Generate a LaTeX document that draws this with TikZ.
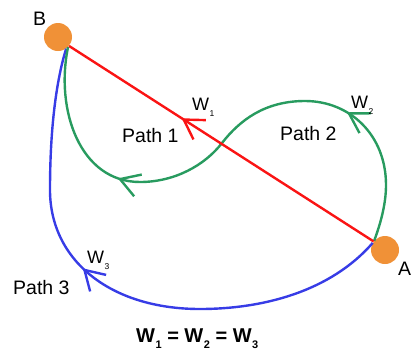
\documentclass[tikz,border=0pt]{standalone}
\usepackage{fontspec}
\setmainfont{Liberation Sans}
\usetikzlibrary{arrows.meta,decorations.markings}
\definecolor{dotorange}{RGB}{240,145,55}
\definecolor{pathred}{RGB}{250,20,20}
\definecolor{pathgreen}{RGB}{40,155,95}
\definecolor{pathblue}{RGB}{55,60,230}
\tikzset{
  point/.style={circle,fill=dotorange,minimum size=28pt,inner sep=0pt},
  lab/.style={font=\fontsize{19.5}{20}\selectfont,inner sep=0pt,anchor=base west},
  wlab/.style={font=\fontsize{18}{18}\selectfont,inner sep=0pt,anchor=base west},
  curve/.style={line width=2.4pt},
  barb/.style={postaction={decorate,decoration={markings,
      mark=at position #1 with {\arrow{Straight Barb[length=19pt,width=23pt]}}}}}
}
\newcommand{\wsub}[1]{W\kern0.5pt\raisebox{-6pt}{\fontsize{8.5}{9}\selectfont #1}}
\newcommand{\wbsub}[1]{W\kern0.5pt\raisebox{-6pt}{\fontsize{11}{11}\selectfont\bfseries #1}}
\begin{document}
\begin{tikzpicture}[x=1pt,y=-1pt]
\useasboundingbox (0,0) rectangle (414,354);
\node[point] (B) at (58,37) {};
\node[point] (A) at (385,250) {};
% blue path 3
\draw[curve,pathblue,barb=0.58] (A.150) .. controls (330,292) and (262,309) .. (200,309)
   .. controls (110,309) and (50,260) .. (50,190)
   .. controls (50,120) and (58,75) .. (B.-55);
% green paths
\draw[curve,pathgreen,barb=0.26,barb=0.725] (A.140) .. controls (380,225) and (386,205) .. (386,185)
   .. controls (386,135) and (350,101) .. (305,101)
   .. controls (265,101) and (240,120) .. (222,143)
   .. controls (205,165) and (175,182) .. (140,182)
   .. controls (80,182) and (55,110) .. (B.-45);
% red path
\draw[curve,pathred,barb=0.63] (A.143) -- (B.-39);
% labels
\node[lab] (lB) at (33,25) {B};
\node[lab] (lA) at (398,275) {A};
\node[lab] (p1) at (122,142) {Path 1};
\node[lab] (p2) at (280,140) {Path 2};
\node[lab] (p3) at (13,294) {Path 3};
\node[wlab] (w1) at (192,110) {\wsub{1}};
\node[wlab] (w2) at (351,108) {\wsub{2}};
\node[wlab] (w3) at (87,263) {\wsub{3}};
\node[inner sep=0pt,anchor=base west,font=\fontsize{20}{20}\selectfont\bfseries] (eq) at (136,342)
  {\wbsub{1} = \wbsub{2} = \wbsub{3}};
\end{tikzpicture}
\end{document}
